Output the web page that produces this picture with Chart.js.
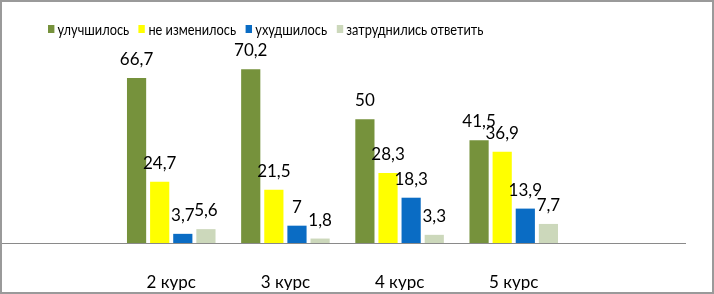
<!DOCTYPE html>
<html>
<head>
<meta charset="utf-8">
<script src="https://cdn.jsdelivr.net/npm/chart.js@4"></script>
<style>
  html, body { margin: 0; padding: 0; background: #fff; }
  #wrap { position: relative; width: 714px; height: 294px; font-family: Lato, "Open Sans", sans-serif; }
  #chart { position: absolute; left: 0; top: 0; }
  #frame { position: absolute; left: 0; top: 0; width: 714px; height: 294px; box-sizing: border-box; border: 2px solid #9a9a9a; pointer-events: none; }
  #legend { position: absolute; left: 48px; top: 19px; display: flex; align-items: center; font-family: Lato, sans-serif; font-size: 16px; color: #000; white-space: nowrap; transform: scaleX(0.8); transform-origin: 0 50%; }
  #legend .item { display: flex; align-items: center; margin-right: 12px; }
  #legend .box { width: 8px; height: 8px; margin-right: 4px; }
</style>
</head>
<body>
<div id="wrap">
  <canvas id="chart" width="714" height="294"></canvas>
  <div id="legend"></div>
  <div id="frame"></div>
</div>
<script>
// Оценка изменений по курсам - Chart.js grouped bars
(function () {
'use strict';
// empty first/last slots keep the groups where the original puts them
const categories = ['', '2 курс', '3 курс', '4 курс', '5 курс', ''];
const improved   = [null, 66.7, 70.2, 50, 41.5, null];
const unchanged  = [null, 24.7, 21.5, 28.3, 36.9, null];
const worse      = [null, 3.7, 7, 18.3, 13.9, null];
const noAnswer   = [null, 5.6, 1.8, 3.3, 7.7, null];
const seriesNames = ['улучшилось', 'не изменилось', 'ухудшилось', 'затруднились ответить'];
const colors = ['#76923c', '#ffff00', '#0a6cc4', '#ccd8bb'];

// value labels above every bar, comma as decimal mark
const barLabels = {
    id: 'barLabels',
    afterDatasetsDraw(chart) {
        const ctx = chart.ctx;
        ctx.save();
        ctx.font = '17px Lato, "Open Sans", sans-serif';
        ctx.fillStyle = '#000';
        ctx.textAlign = 'center';
        ctx.textBaseline = 'alphabetic';
        chart.data.datasets.forEach((ds, i) => {
            chart.getDatasetMeta(i).data.forEach((bar, j) => {
                const v = ds.data[j];
                if (v == null) return;
                ctx.fillText(String(v).replace('.', ','), bar.x, bar.y - 13);
            });
        });
        ctx.restore();
    }
};

function build() {
    const series = [improved, unchanged, worse, noAnswer];
    const ctx = document.getElementById('chart').getContext('2d');
    new Chart(ctx, {
        type: 'bar',
        data: {
            labels: categories,
            datasets: series.map((d, i) => ({ label: seriesNames[i], data: d, backgroundColor: colors[i] }))
        },
        options: {
            responsive: false, animation: false, devicePixelRatio: 1,
            categoryPercentage: 0.81, barPercentage: 0.83,
            layout: { padding: { top: 45, left: 0, right: 29, bottom: 4 } },
            plugins: { legend: { display: false }, tooltip: { enabled: false } },
            scales: {
                x: {
                    grid: { display: false },
                    border: { display: true, color: '#8a8a8a', width: 1 },
                    ticks: { color: '#000', padding: 21, maxRotation: 0, minRotation: 0, font: { family: 'Lato, "Open Sans", sans-serif', size: 17 } },
                    afterFit(scale) { scale.height = 47; }
                },
                y: { display: false, min: 0, max: 80 }
            }
        },
        plugins: [barLabels]
    });
    // legend as plain html text
    const legend = document.getElementById('legend');
    seriesNames.forEach((name, i) => {
        const item = document.createElement('div');
        item.className = 'item';
        item.innerHTML = '<span class="box" style="background:' + colors[i] + '"></span><span>' + name + '</span>';
        legend.appendChild(item);
    });
}
if (document.readyState === 'loading') document.addEventListener('DOMContentLoaded', build); else build();
})();
</script>
</body>
</html>
